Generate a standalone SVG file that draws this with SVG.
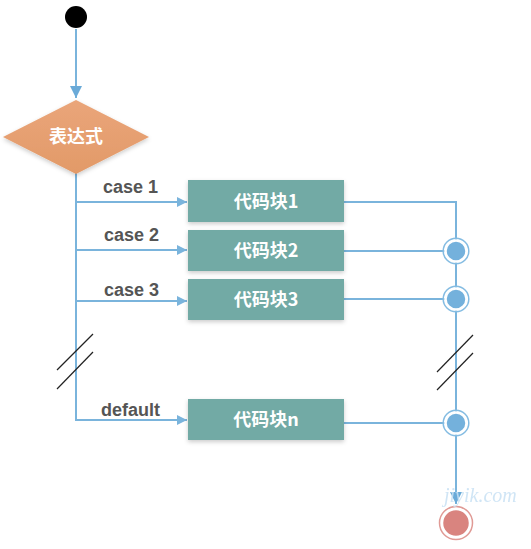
<svg xmlns="http://www.w3.org/2000/svg" width="531" height="549" viewBox="0 0 531 549">
<style>
.ln{stroke:#7ab4dc;stroke-width:2;fill:none}
.brk{stroke:#222;stroke-width:1.2}
.box{fill:#72aaa5}
.bt{font-family:"Noto Sans CJK SC","Liberation Sans",sans-serif;font-weight:bold;font-size:18px;fill:#fff;text-anchor:middle}
.lb{font-family:"Liberation Sans",Arial,sans-serif;font-weight:bold;font-size:18px;fill:#555}
.jn{fill:#74b1dc;stroke:#fff;stroke-width:2.5}
.jo{fill:none;stroke:#84bce2;stroke-width:1.5}
</style>
<defs>
<marker id="ah" viewBox="0 0 10 10" refX="10" refY="5" markerWidth="10" markerHeight="10" markerUnits="userSpaceOnUse" orient="auto">
<path d="M0,0 L10,5 L0,10 Z" fill="#7ab4dc"/>
</marker>
<marker id="ahb" viewBox="0 0 12 12" refX="12" refY="6" markerWidth="12" markerHeight="12" markerUnits="userSpaceOnUse" orient="auto">
<path d="M0,0 L12,6 L0,12 Z" fill="#6aaad8"/>
</marker>
<linearGradient id="dg" x1="0" y1="0" x2="0" y2="1">
<stop offset="0" stop-color="#eaa57a"/>
<stop offset="1" stop-color="#e29a68"/>
</linearGradient>
<filter id="sh" x="-20%" y="-20%" width="140%" height="150%">
<feDropShadow dx="0" dy="2" stdDeviation="2" flood-color="#000" flood-opacity="0.2"/>
</filter>
</defs>
<g id="connectors">
<line class="ln" x1="76" y1="29" x2="76" y2="98" marker-end="url(#ahb)"/>
<polyline class="ln" points="76,173 76,420 187,420" marker-end="url(#ah)"/>
<line class="ln" x1="76" y1="202" x2="187" y2="202" marker-end="url(#ah)"/>
<line class="ln" x1="76" y1="250" x2="187" y2="250" marker-end="url(#ah)"/>
<line class="ln" x1="76" y1="301" x2="187" y2="301" marker-end="url(#ah)"/>
<polyline class="ln" points="344,202 456,202 456,423"/>
<line class="ln" x1="344" y1="251" x2="456" y2="251"/>
<line class="ln" x1="344" y1="299" x2="456" y2="299"/>
<line class="ln" x1="344" y1="423" x2="456" y2="423"/>
<line class="ln" x1="456" y1="423" x2="456" y2="504" stroke-width="2.5" marker-end="url(#ahb)"/>
<line class="brk" x1="57" y1="370" x2="93" y2="334"/>
<line class="brk" x1="57" y1="389" x2="93" y2="352"/>
<line class="brk" x1="437" y1="372" x2="473" y2="335"/>
<line class="brk" x1="437" y1="390" x2="473" y2="353"/>
</g>
<g id="start"><circle cx="76" cy="17" r="11" fill="#000"/></g>
<g id="expr">
<polygon points="76,100 149,137 76,174 3,137" fill="url(#dg)" filter="url(#sh)"/>
<text class="bt" x="76" y="143" font-size="15">表达式</text>
</g>
<g id="label1"><text class="lb" x="103" y="193">case 1</text></g>
<g id="label2"><text class="lb" x="104" y="241">case 2</text></g>
<g id="label3"><text class="lb" x="104" y="296">case 3</text></g>
<g id="labeld"><text class="lb" x="101" y="416">default</text></g>
<g id="block1"><rect class="box" x="188" y="180" width="156" height="42" filter="url(#sh)"/><text class="bt" x="266" y="208">代码块1</text></g>
<g id="block2"><rect class="box" x="188" y="230" width="156" height="41" filter="url(#sh)"/><text class="bt" x="266" y="257">代码块2</text></g>
<g id="block3"><rect class="box" x="188" y="279" width="156" height="41" filter="url(#sh)"/><text class="bt" x="266" y="306">代码块3</text></g>
<g id="blockn"><rect class="box" x="188" y="399" width="156" height="41" filter="url(#sh)"/><text class="bt" x="266" y="426">代码块n</text></g>
<g id="j2"><circle class="jn" cx="456" cy="251" r="10.5"/><circle class="jo" cx="456" cy="251" r="12.8"/></g>
<g id="j3"><circle class="jn" cx="456" cy="299" r="10.5"/><circle class="jo" cx="456" cy="299" r="12.8"/></g>
<g id="jn"><circle class="jn" cx="456" cy="423" r="10.5"/><circle class="jo" cx="456" cy="423" r="12.8"/></g>
<g id="end"><circle cx="456" cy="523" r="14" fill="#d9847f" stroke="#fff" stroke-width="2.5"/><circle cx="456" cy="523" r="16.5" fill="none" stroke="#e09a95" stroke-width="1.5"/></g>
<text x="444" y="502" font-family="Liberation Serif,serif" font-style="italic" font-size="20" fill="#c8e1f4" opacity="0.85">jiyik.com</text>
</svg>
